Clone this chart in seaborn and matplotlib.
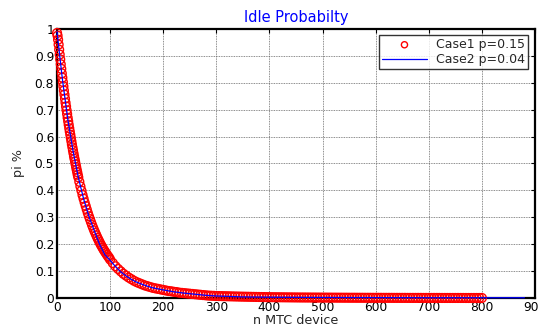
import matplotlib
matplotlib.use("Agg")
import matplotlib.pyplot as plt
import seaborn as sns
import pandas as pd

# Case1 p=0.15 (red circles): n values and idle probability
case1_n = (list(range(0, 41, 1)) + list(range(42, 101, 2)) +
           list(range(105, 801, 5)))
case1_p = [
    0.985, 0.975, 0.960, 0.942, 0.923, 0.905, 0.887, 0.869, 0.852, 0.835,
    0.819, 0.803, 0.787, 0.771, 0.756, 0.741, 0.726, 0.712, 0.698, 0.684,
    0.670, 0.657, 0.644, 0.631, 0.619, 0.607, 0.595, 0.583, 0.571, 0.560,
    0.549, 0.538, 0.527, 0.517, 0.507, 0.497, 0.487, 0.477, 0.468, 0.458,
    0.449,
    0.432, 0.415, 0.399, 0.383, 0.369, 0.355, 0.342, 0.329, 0.316, 0.304,
    0.293, 0.282, 0.271, 0.261, 0.251, 0.242, 0.233, 0.224, 0.216, 0.208,
    0.200, 0.193, 0.186, 0.179, 0.173, 0.167, 0.161, 0.155, 0.150, 0.143,
    # 105 .. 300
    0.130, 0.118, 0.108, 0.099, 0.090, 0.083, 0.076, 0.070, 0.064, 0.059,
    0.055, 0.051, 0.047, 0.044, 0.041, 0.038, 0.036, 0.034, 0.032, 0.030,
    0.028, 0.026, 0.025, 0.023, 0.022, 0.020, 0.019, 0.018, 0.017, 0.016,
    0.015, 0.014, 0.013, 0.012, 0.011, 0.010, 0.009, 0.0085, 0.008, 0.0075,
    # 305 .. 550
    0.0072, 0.0070, 0.0067, 0.0065, 0.0062, 0.0060, 0.0057, 0.0055, 0.0052, 0.0050,
    0.0048, 0.0046, 0.0044, 0.0042, 0.0040, 0.0038, 0.0036, 0.0035, 0.0033, 0.0032,
    0.0030, 0.0029, 0.0028, 0.0027, 0.0026, 0.0025, 0.0024, 0.0023, 0.0022, 0.0021,
    0.0020, 0.0019, 0.0019, 0.0018, 0.0018, 0.0017, 0.0017, 0.0016, 0.0016, 0.0015,
    0.0015, 0.0014, 0.0014, 0.0013, 0.0013, 0.0012, 0.0012, 0.0011, 0.0011, 0.0010,
    # 555 .. 800
    0.0010, 0.0010, 0.0009, 0.0009, 0.0009, 0.0008, 0.0008, 0.0008, 0.0007, 0.0007,
    0.0007, 0.0007, 0.0006, 0.0006, 0.0006, 0.0006, 0.0005, 0.0005, 0.0005, 0.0005,
    0.0005, 0.0004, 0.0004, 0.0004, 0.0004, 0.0004, 0.0004, 0.0003, 0.0003, 0.0003,
    0.0003, 0.0003, 0.0003, 0.0003, 0.0002, 0.0002, 0.0002, 0.0002, 0.0002, 0.0002,
    0.0002, 0.0002, 0.0002, 0.0001, 0.0001, 0.0001, 0.0001, 0.0001, 0.0001, 0.0001,
]

# Case2 p=0.04 (blue line)
case2_n = [0, 10, 20, 30, 40, 50, 60, 70, 80, 90, 100, 110, 120, 130, 140, 150,
           160, 170, 180, 190, 200, 220, 240, 260, 280, 300, 350, 400, 500, 600,
           700, 800, 880]
case2_p = [0.990, 0.815, 0.668, 0.548, 0.449, 0.369, 0.304, 0.251, 0.200, 0.161,
           0.140, 0.117, 0.097, 0.082, 0.069, 0.059, 0.051, 0.044, 0.038, 0.034,
           0.030, 0.023, 0.018, 0.014, 0.010, 0.0075, 0.004, 0.003, 0.002, 0.0015,
           0.001, 0.001, 0.001]

x_ticks = [0, 100, 200, 300, 400, 500, 600, 700, 800, 900]
y_ticks = [0, 0.1, 0.2, 0.3, 0.4, 0.5, 0.6, 0.7, 0.8, 0.9, 1]
y_tick_labels = ["0", "0.1", "0.2", "0.3", "0.4", "0.5", "0.6", "0.7", "0.8", "0.9", "1"]

df1 = pd.DataFrame({"n": case1_n, "p": case1_p})
df2 = pd.DataFrame({"n": case2_n, "p": case2_p})

sns.set_style("white")
plt.rcParams["font.family"] = ["DejaVu Sans"]

fig = plt.figure(figsize=(5.39, 3.29), dpi=100)
ax = fig.add_axes([0.1058, 0.0942, 0.8868, 0.8177])

sns.scatterplot(data=df1, x="n", y="p", ax=ax, marker="o", s=40,
                facecolors="none", edgecolor="red", linewidth=1.0,
                label="Case1 p=0.15", clip_on=False, zorder=3)
sns.lineplot(data=df2, x="n", y="p", ax=ax, color="blue", linewidth=0.9,
             label="Case2 p=0.04", zorder=4, clip_on=False)

ax.set_xlim(0, 900)
ax.set_ylim(0, 1)
ax.set_xticks(x_ticks)
ax.set_yticks(y_ticks)
ax.set_yticklabels(y_tick_labels)
ax.grid(True, color="#666666", linestyle=(0, (1, 1)), linewidth=0.6)
ax.set_axisbelow(True)
for sp in ax.spines.values():
    sp.set_color("black")
    sp.set_linewidth(1.6)
ax.tick_params(direction="in", length=3, width=0.8, colors="black",
               labelsize=8.8, top=True, right=True, pad=2)
ax.set_xlabel("n MTC device", fontsize=9.2, labelpad=0.5)
ax.set_ylabel("pi %", fontsize=9.2, labelpad=7)
ax.set_title("Idle Probabilty", fontsize=10.5, color="blue", pad=5)

leg = ax.legend(loc="upper right", fontsize=9, frameon=True, fancybox=False,
                borderpad=0.25, handlelength=3.6, handletextpad=0.7,
                labelspacing=0.15, bbox_to_anchor=(0.985, 0.978),
                borderaxespad=0.0, markerfirst=True, markerscale=0.7)
leg.get_frame().set_edgecolor("black")
leg.get_frame().set_linewidth(1.0)

fig.savefig("out.png", dpi=100)
